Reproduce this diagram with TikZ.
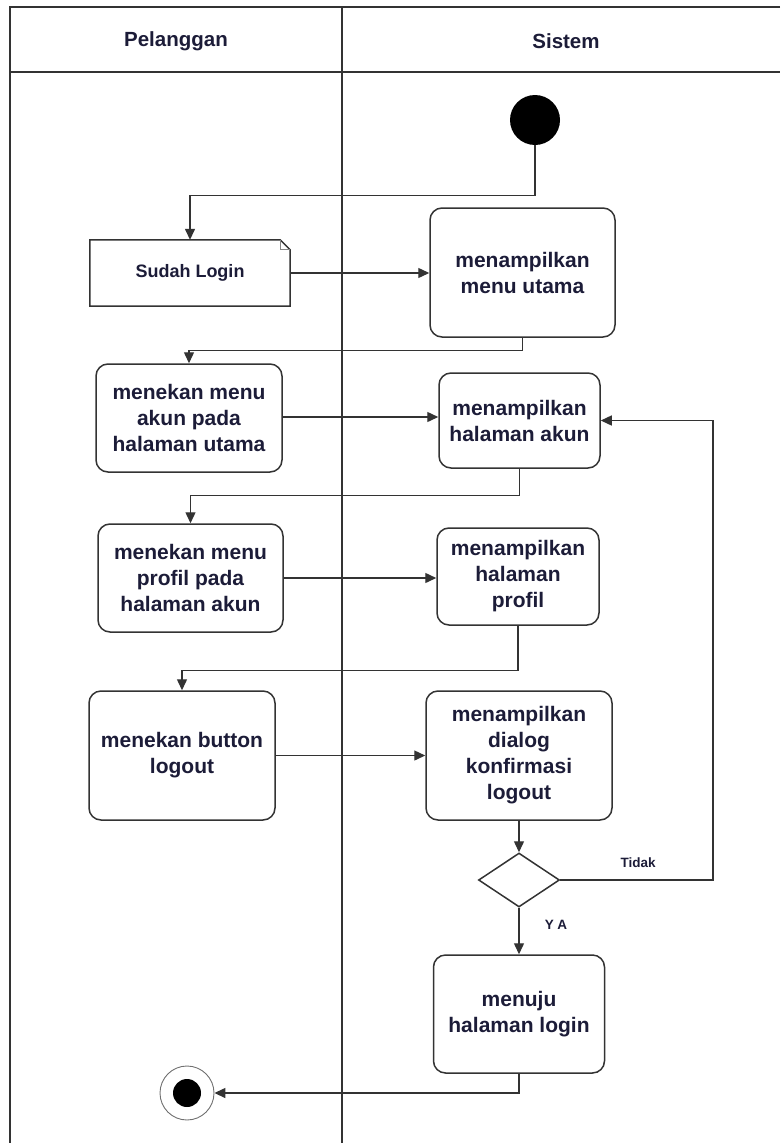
\documentclass[tikz,border=0pt]{standalone}
\usepackage{fontspec}
\setmainfont{Liberation Sans}
\usetikzlibrary{shapes.geometric,arrows.meta}

\definecolor{garis}{HTML}{333333}
\definecolor{tulisan}{HTML}{1C1C38}

\tikzset{
  aksi/.style={draw=garis, line width=1.5pt, rounded corners=12pt, align=center,
    font=\bfseries\fontsize{21}{26}\selectfont, text=tulisan, inner sep=0pt},
  alur/.style={draw=garis, line width=1.4pt, -{Triangle[length=11pt,width=10pt]}},
  label/.style={font=\bfseries\fontsize{13.5}{15}\selectfont, text=tulisan}
}

\begin{document}
\begin{tikzpicture}[x=1pt,y=-1pt]
			\useasboundingbox (0,0) rectangle (780,1143);
			% swimlane
			\draw[garis, line width=1.5pt] (780,7)--(10,7)--(10,1143);
			\draw[garis, line width=1.5pt] (10,72)--(780,72);
			\draw[garis, line width=1.5pt] (342,7)--(342,1143);
			\node[font=\bfseries\fontsize{20.5}{24}\selectfont, text=tulisan] (pelanggan) at (176,41) {Pelanggan};
			\node[font=\bfseries\fontsize{20.5}{24}\selectfont, text=tulisan] (sistem) at (566,41) {Sistem};
			%%%%%%%%%%%%%%%%%%%%%%%%%%%%%%%%
			\node[circle, fill=black, minimum size=50pt, inner sep=0pt] (mulai) at (535,120) {};
			\node[font=\bfseries\fontsize{18}{22}\selectfont, text=tulisan, minimum width=200pt, minimum height=66pt, inner sep=0pt] (sudah) at (190,273) {Sudah Login};
			\draw[garis, line width=1.5pt] (sudah.north west)--([xshift=-10pt]sudah.north east)--([yshift=-10pt]sudah.north east)--(sudah.south east)--(sudah.south west)--cycle;
			\draw[garis!60, line width=0.9pt] ([xshift=-10pt]sudah.north east)--([xshift=-10pt,yshift=-10pt]sudah.north east)--([yshift=-10pt]sudah.north east);
			\node[aksi, minimum width=185pt, minimum height=129pt] (utama) at (522.5,272.5) {menampilkan\\menu utama};
			%%%%%%%%%%%%%%%%%%%%%%%%%%%%%%%%
			\node[aksi, minimum width=186pt, minimum height=108pt] (tekanAkun) at (189,418) {menekan menu\\akun pada\\halaman utama};
			\node[aksi, minimum width=161pt, minimum height=95pt] (halAkun) at (519.5,420.5) {menampilkan\\halaman akun};
			\node[aksi, minimum width=185pt, minimum height=108pt] (tekanProfil) at (190.5,578) {menekan menu\\profil pada\\halaman akun};
			\node[aksi, minimum width=162pt, minimum height=97pt] (halProfil) at (518,576.5) {menampilkan\\halaman\\profil};
			\node[aksi, minimum width=186pt, minimum height=129pt] (tekanLogout) at (182,755.5) {menekan button\\logout};
			\node[aksi, minimum width=186pt, minimum height=129pt] (dialog) at (519,755.5) {menampilkan\\dialog\\konfirmasi\\logout};
			\node[diamond, draw=garis, line width=1.5pt, minimum width=81pt, minimum height=54pt, inner sep=0pt] (pilih) at (519,880) {};
			\node[aksi, minimum width=171pt, minimum height=118pt] (menuju) at (519,1014) {menuju\\halaman login};
			%%%%%%%%%%%%%%%%%%%%%%%%%%%%%%%%
			\node[circle, draw=garis!70, line width=0.9pt, minimum size=54pt, inner sep=0pt] (selesai) at (187,1093) {};
			\node[circle, fill=black, minimum size=28pt, inner sep=0pt] at (selesai) {};
			\coordinate (belok) at (713,880);
			%%%%%%%%%%%%%%%%%%%%%%%%%%%%%%%%
			\draw[alur] (mulai.south)--++(0,50)-|(sudah.north);
			\draw[alur] (sudah.east)--(sudah.east-|utama.west);
			\draw[alur] (utama.south)--++(0,13)-|(tekanAkun.north);
			\draw[alur] ([yshift=1pt]tekanAkun.east)--([yshift=1pt]tekanAkun.east-|halAkun.west);
			\draw[alur] (halAkun.south)--++(0,27)-|(tekanProfil.north);
			\draw[alur] (tekanProfil.east)--(tekanProfil.east-|halProfil.west);
			\draw[alur] (halProfil.south)--++(0,45)-|(tekanLogout.north);
			\draw[alur] (tekanLogout.east)--(tekanLogout.east-|dialog.west);
			\draw[alur] (dialog.south)--(pilih.north);
			\draw[alur] (pilih.south)--(menuju.north);
			\draw[alur] (pilih.east)--(belok)|-(halAkun.east);
			\draw[alur] (menuju.south)|-(selesai.east);
			\node[label] at (638,863){Tidak};
			\node[label] at (556,925){Y A};
		\end{tikzpicture}
\end{document}
